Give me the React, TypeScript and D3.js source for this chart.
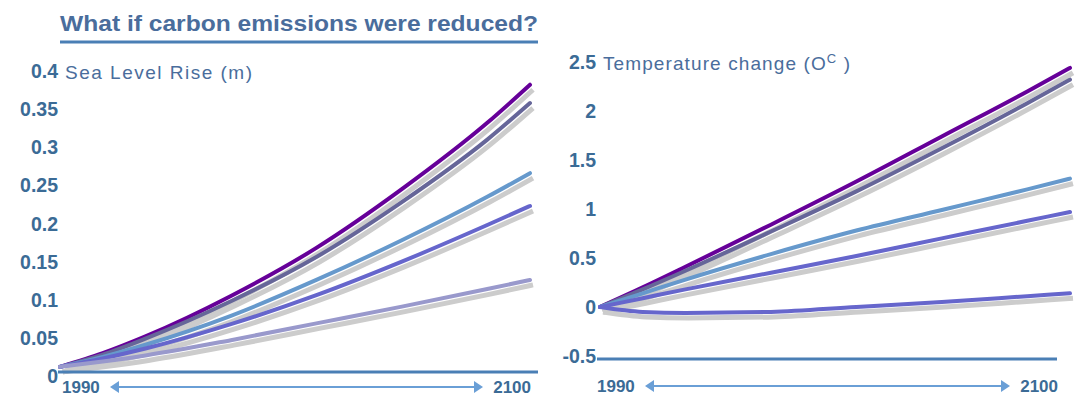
import React from "react";
import * as d3 from "d3";

const years = [1990, 2000, 2010, 2030, 2050, 2070, 2090, 2100];

const seaA = [0.012, 0.03, 0.052, 0.105, 0.168, 0.245, 0.332, 0.382];
const seaB = [0.012, 0.028, 0.049, 0.098, 0.156, 0.228, 0.31, 0.358];
const seaC = [0.012, 0.025, 0.041, 0.079, 0.126, 0.178, 0.235, 0.266];
const seaD = [0.012, 0.023, 0.036, 0.068, 0.106, 0.15, 0.198, 0.223];
const seaE = [0.012, 0.019, 0.027, 0.047, 0.069, 0.091, 0.114, 0.126];

const tempA = [0, 0.2, 0.41, 0.84, 1.28, 1.74, 2.2, 2.44];
const tempB = [0, 0.18, 0.37, 0.77, 1.18, 1.62, 2.08, 2.32];
const tempC = [0, 0.14, 0.28, 0.54, 0.78, 0.99, 1.2, 1.31];
const tempD = [0, 0.09, 0.18, 0.35, 0.52, 0.7, 0.88, 0.97];
const tempE = [0, -0.05, -0.06, -0.05, 0.0, 0.05, 0.11, 0.14];

const seaTicks = [0, 0.05, 0.1, 0.15, 0.2, 0.25, 0.3, 0.35, 0.4];
const tempTicks = [-0.5, 0, 0.5, 1, 1.5, 2, 2.5];

const seaColors = ["#660099", "#666699", "#6699cc", "#6666cc", "#9999cc"];
const tempColors = ["#660099", "#666699", "#6699cc", "#6666cc", "#6666cc"];

const startYear = "1990";
const endYear = "2100";
const title = "What if carbon emissions were reduced?";

const FONT = "'Liberation Sans', Arial, Helvetica, sans-serif";
const LABEL = "#3b6b96";
const AXIS = "#4a7fb5";
const ARROW = "#6a9fd6";
const SHADOW = "#cccccc";

function Panel({ x0, x1, yScale, series, colors, ticks, tickRight, axisY, axisX0, axisX1 }) {
  const xs = d3.scaleLinear().domain([1990, 2100]).range([x0, x1]);
  const line = d3
    .line<number>()
    .x((_, i) => xs(years[i]))
    .y((d) => yScale(d))
    .curve(d3.curveMonotoneX);
  return (
    <g>
      {series.map((s, i) => (
        <path
          key={"s" + i}
          d={line(s) || ""}
          transform="translate(3,5)"
          fill="none"
          stroke={SHADOW}
          strokeWidth={5}
        />
      ))}
      {series.map((s, i) => (
        <path
          key={"l" + i}
          d={line(s) || ""}
          fill="none"
          stroke={colors[i]}
          strokeWidth={4}
          strokeLinecap="round"
        />
      ))}
      {ticks.map((t) => (
        <text
          key={t}
          x={tickRight}
          y={yScale(t) + 7}
          textAnchor="end"
          fontFamily={FONT}
          fontWeight="bold"
          fontSize={19.5}
          fill={LABEL}
        >
          {String(t)}
        </text>
      ))}
      <line x1={axisX0} x2={axisX1} y1={axisY} y2={axisY} stroke={AXIS} strokeWidth={3} />
    </g>
  );
}

function YearArrow({ xl, xr, textY }) {
  const ay = textY - 6;
  const a0 = xl + 48;
  const a1 = xr - 48;
  return (
    <g>
      <text x={xl} y={textY} fontFamily={FONT} fontWeight="bold" fontSize={17} fill={LABEL}>
        {startYear}
      </text>
      <text x={xr} y={textY} textAnchor="end" fontFamily={FONT} fontWeight="bold" fontSize={17} fill={LABEL}>
        {endYear}
      </text>
      <line x1={a0 + 6} x2={a1 - 6} y1={ay} y2={ay} stroke={ARROW} strokeWidth={2} />
      <path d={`M${a0},${ay} L${a0 + 9},${ay - 6} L${a0 + 9},${ay + 6} Z`} fill={ARROW} />
      <path d={`M${a1},${ay} L${a1 - 9},${ay - 6} L${a1 - 9},${ay + 6} Z`} fill={ARROW} />
    </g>
  );
}

export default function App() {
  const ySea = d3.scaleLinear().domain([0, 0.4]).range([376, 71]);
  const yTemp = d3.scaleLinear().domain([-0.5, 2.5]).range([356, 62]);
  return (
    <svg
      width={1080}
      height={398}
      style={{ position: "absolute", left: 0, top: 0, background: "#fff" }}
    >
      <text
        x={60}
        y={31}
        fontFamily={FONT}
        fontWeight="bold"
        fontSize={22}
        fill="#4a6d9c"
        textLength={478}
        lengthAdjust="spacingAndGlyphs"
      >
        {title}
      </text>
      <line x1={60} x2={538} y1={42} y2={42} stroke="#4a7fb5" strokeWidth={3} />

      <Panel
        x0={60}
        x1={530}
        yScale={ySea}
        series={[seaA, seaB, seaC, seaD, seaE]}
        colors={seaColors}
        ticks={seaTicks}
        tickRight={58}
        axisY={ySea(0) - 4}
        axisX0={58}
        axisX1={538}
      />
      <text x={65} y={79} fontFamily={FONT} fontSize={19} fill="#4a6d9c" textLength={187} lengthAdjust="spacing">
        Sea Level Rise (m)
      </text>

      <Panel
        x0={600}
        x1={1070}
        yScale={yTemp}
        series={[tempA, tempB, tempC, tempD, tempE]}
        colors={tempColors}
        ticks={tempTicks}
        tickRight={596}
        axisY={yTemp(-0.5) + 3}
        axisX0={597}
        axisX1={1057}
      />
      <text x={603} y={70} fontFamily={FONT} fontSize={19} fill="#4a6d9c" letterSpacing={1.1}>
        Temperature change (O
        <tspan dy={-7} fontSize={13}>C</tspan>
        <tspan dy={7}> )</tspan>
      </text>

      <YearArrow xl={62} xr={531} textY={393} />
      <YearArrow xl={597} xr={1058} textY={392} />
    </svg>
  );
}
